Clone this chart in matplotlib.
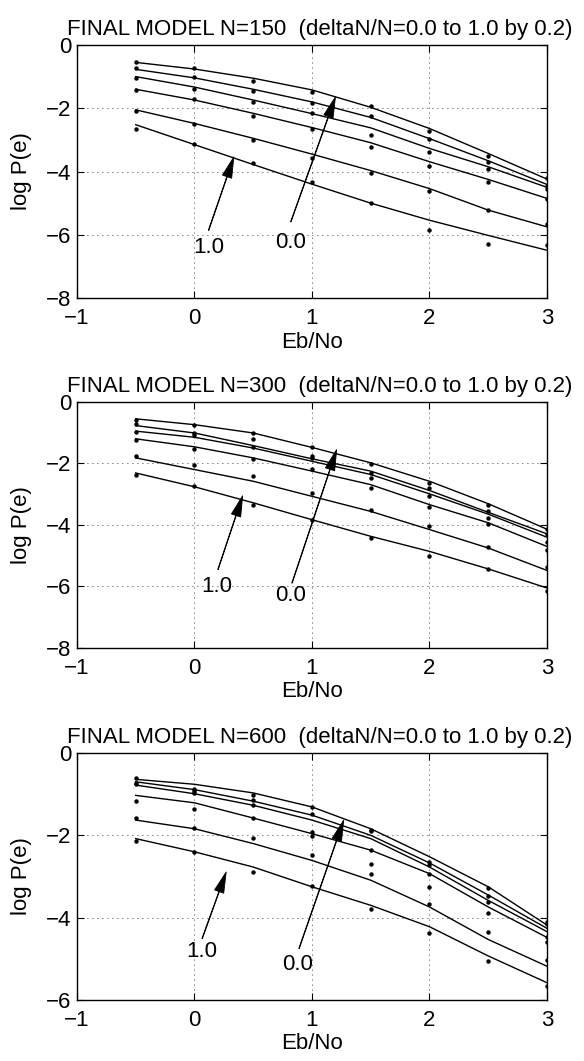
import numpy as np
import matplotlib
matplotlib.use("Agg")
import matplotlib.pyplot as plt

plt.rcParams['font.family'] = ['Liberation Sans', 'DejaVu Sans']

ebno = [-0.5, 0.0, 0.5, 1.0, 1.5, 2.0, 2.5, 3.0]
sizes = [150, 300, 600]

# measured points (dots), one row per deltaN/N = 0.0 ... 1.0
dots_150 = [
    [-0.55, -0.74, -1.13, -1.48, -1.94, -2.73, -3.50, -4.19],
    [-0.72, -1.00, -1.44, -1.84, -2.24, -2.97, -3.70, -4.45],
    [-1.03, -1.40, -1.80, -2.14, -2.86, -3.39, -3.92, -4.55],
    [-1.42, -1.71, -2.24, -2.65, -3.21, -3.81, -4.34, -4.87],
    [-2.08, -2.51, -2.99, -3.57, -4.04, -4.62, -5.23, -5.66],
    [-2.67, -3.13, -3.72, -4.32, -5.00, -5.86, -6.30, -6.31],
]
model_150 = [
    [-0.55, -0.76, -1.05, -1.42, -1.97, -2.64, -3.43, -4.24],
    [-0.77, -1.04, -1.40, -1.80, -2.29, -2.96, -3.66, -4.41],
    [-1.00, -1.33, -1.74, -2.17, -2.62, -3.27, -3.85, -4.50],
    [-1.40, -1.74, -2.16, -2.61, -3.09, -3.69, -4.25, -4.85],
    [-2.05, -2.48, -2.95, -3.45, -3.97, -4.54, -5.22, -5.75],
    [-2.52, -3.15, -3.78, -4.40, -5.00, -5.54, -6.02, -6.49],
]

dots_300 = [
    [-0.60, -0.74, -1.01, -1.46, -2.02, -2.63, -3.34, -4.13],
    [-0.72, -1.01, -1.22, -1.77, -2.31, -2.80, -3.56, -4.31],
    [-0.99, -1.09, -1.47, -1.82, -2.47, -3.07, -3.78, -4.56],
    [-1.24, -1.52, -1.85, -2.18, -2.81, -3.43, -3.97, -4.81],
    [-1.75, -2.06, -2.41, -2.96, -3.51, -4.05, -4.73, -5.37],
    [-2.37, -2.74, -3.34, -3.83, -4.43, -5.00, -5.43, -6.16],
]
model_300 = [
    [-0.55, -0.74, -1.01, -1.48, -1.98, -2.58, -3.31, -4.14],
    [-0.77, -1.01, -1.42, -1.85, -2.25, -2.88, -3.59, -4.29],
    [-0.95, -1.15, -1.50, -1.93, -2.36, -2.99, -3.65, -4.40],
    [-1.20, -1.46, -1.82, -2.25, -2.69, -3.34, -3.93, -4.70],
    [-1.82, -2.20, -2.58, -3.07, -3.56, -4.15, -4.75, -5.48],
    [-2.31, -2.76, -3.28, -3.83, -4.37, -4.86, -5.43, -6.05],
]

dots_600 = [
    [-0.60, -0.88, -1.01, -1.31, -1.86, -2.65, -3.29, -4.10],
    [-0.73, -0.92, -1.15, -1.47, -1.89, -2.73, -3.48, -4.16],
    [-0.76, -0.97, -1.27, -1.92, -2.36, -2.93, -3.62, -4.47],
    [-1.17, -1.35, -1.58, -2.01, -2.69, -3.25, -3.88, -4.60],
    [-1.58, -1.81, -2.06, -2.48, -2.93, -3.68, -4.36, -5.03],
    [-2.14, -2.40, -2.88, -3.24, -3.80, -4.37, -5.05, -5.66],
]
model_600 = [
    [-0.64, -0.76, -0.97, -1.31, -1.84, -2.52, -3.25, -4.18],
    [-0.70, -0.89, -1.17, -1.51, -2.00, -2.67, -3.45, -4.26],
    [-0.78, -0.99, -1.27, -1.63, -2.08, -2.77, -3.58, -4.34],
    [-1.03, -1.21, -1.58, -1.96, -2.36, -2.93, -3.74, -4.48],
    [-1.63, -1.84, -2.20, -2.61, -3.09, -3.74, -4.53, -5.18],
    [-2.08, -2.40, -2.77, -3.25, -3.70, -4.22, -4.93, -5.58],
]

dots_all = [dots_150, dots_300, dots_600]
models_all = [model_150, model_300, model_600]
ymins = [-8, -8, -6]

# annotation positions: (text xy, arrow tail, arrow tip) per panel
ann_1 = [((0.12, -6.39), (0.12, -5.86), (0.335, -3.54)),
         ((0.82, -6.23), (0.82, -5.59), (1.20, -1.64))]
ann_2 = [((0.19, -6.00), (0.20, -5.45), (0.41, -3.05)),
         ((0.82, -6.30), (0.83, -5.89), (1.21, -1.55))]
ann_3 = [((0.065, -4.83), (0.065, -4.51), (0.27, -2.89)),
         ((0.88, -5.13), (0.89, -4.75), (1.27, -1.63))]
anns = [ann_1, ann_2, ann_3]
ann_labels = ['1.0', '0.0']

fig = plt.figure(figsize=(5.84, 10.61), dpi=100)
positions = [
    [0.1318, 0.7191, 0.8048, 0.2385],
    [0.1318, 0.3893, 0.8048, 0.2319],
    [0.1318, 0.0575, 0.8048, 0.2328],
]

fs = 16
for i in range(3):
    ax = fig.add_axes(positions[i])
    for row in models_all[i]:
        ax.plot(ebno, row, color='k', lw=1.0)
    for row in dots_all[i]:
        ax.plot(ebno, row, 'ko', ms=3.2, mew=0)
    ax.set_xlim(-1, 3)
    ax.set_ylim(ymins[i], 0)
    ax.set_xticks([-1, 0, 1, 2, 3])
    ax.set_yticks(np.arange(ymins[i], 1, 2))
    ax.grid(True, color='k', linestyle=(0, (1, 5)), linewidth=0.6)
    ax.tick_params(direction='in', top=True, right=True, length=5,
                   labelsize=fs, width=0.8)
    ax.tick_params(axis='x', pad=7)
    ax.tick_params(axis='y', pad=4)
    for s in ax.spines.values():
        s.set_linewidth(1.0)
    ax.set_xlabel('Eb/No', fontsize=fs, labelpad=2)
    ax.set_ylabel('log P(e)', fontsize=fs, labelpad=10)
    ax.set_title('FINAL MODEL N=%d  (deltaN/N=0.0 to 1.0 by 0.2)' % sizes[i],
                 fontsize=fs, pad=7, x=0.517)
    for lab, (txy, tail, tip) in zip(ann_labels, anns[i]):
        ax.annotate('', xy=tip, xytext=tail,
                    arrowprops=dict(facecolor='black', edgecolor='black',
                                    width=0.4, headwidth=7, headlength=15,
                                    shrink=0.0, lw=0.6))
        ax.text(txy[0], txy[1], lab, fontsize=fs, ha='center', va='center')

fig.savefig('out.png', dpi=100)
